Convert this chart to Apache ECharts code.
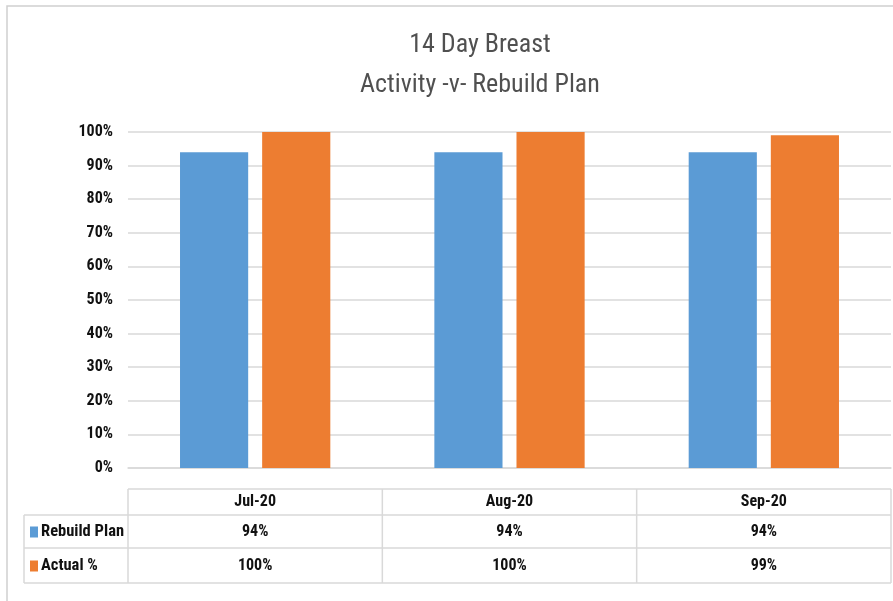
<!DOCTYPE html>
<html>
<head>
<meta charset="utf-8">
<script src="https://cdn.jsdelivr.net/npm/echarts@6/dist/echarts.min.js"></script>
<style>
html,body{margin:0;padding:0;background:#fff;}
#c{width:893px;height:601px;}
</style>
</head>
<body>
<div id="c"></div>
<script>
const categories = ['Jul-20', 'Aug-20', 'Sep-20'];
const seriesNames = ['Rebuild Plan', 'Actual %'];
const rebuildPlan = [94, 94, 94];
const actualPct = [100, 100, 99];
const yTickValues = [0, 10, 20, 30, 40, 50, 60, 70, 80, 90, 100];

const FONT = "'Liberation Sans Narrow', 'Roboto Condensed', 'Liberation Sans', sans-serif";
const colors = ['#5B9BD5', '#ED7D31'];
const lineColor = '#d9d9d9';

const chart = echarts.init(document.getElementById('c'), null, {renderer: 'canvas'});

const option = {
  animation: false,
  backgroundColor: '#fff',
  title: {
    text: '14 Day Breast\nActivity -v- Rebuild Plan',
    left: 475,
    textAlign: 'center',
    top: 20,
    textStyle: {fontFamily: FONT, fontSize: 26, fontWeight: 'normal', color: '#505050', lineHeight: 40}
  },
  grid: {left: 128, right: 2, top: 132, bottom: 133, containLabel: false},
  xAxis: {
    type: 'category',
    data: categories,
    axisTick: {show: false},
    axisLabel: {show: false},
    axisLine: {lineStyle: {color: lineColor, width: 1.5}}
  },
  yAxis: {
    type: 'value',
    min: yTickValues[0],
    max: yTickValues[yTickValues.length - 1],
    interval: yTickValues[1] - yTickValues[0],
    axisLine: {show: false},
    axisTick: {show: false},
    splitLine: {lineStyle: {color: lineColor, width: 1.5}},
    axisLabel: {
      formatter: v => v + '%',
      fontFamily: FONT, fontSize: 16, fontWeight: 'bold', color: '#111', margin: 15
    }
  },
  series: [
    {name: seriesNames[0], type: 'bar', data: rebuildPlan, barWidth: '26.8%', barGap: '20.5%', itemStyle: {color: colors[0]}},
    {name: seriesNames[1], type: 'bar', data: actualPct, barWidth: '26.8%', barGap: '20.5%', itemStyle: {color: colors[1]}}
  ]
};
chart.setOption(option);

// Data table built from the axis scale
const xs = categories.map(c => chart.convertToPixel({xAxisIndex: 0}, c));
const bw = xs[1] - xs[0];
const colLeft = xs[0] - bw / 2;
const colRight = xs[xs.length - 1] + bw / 2;
const baseY = chart.convertToPixel({yAxisIndex: 0}, 0);
const tableTop = baseY + 21;
const rowEdges = [tableTop, tableTop + 26, tableTop + 59, tableTop + 94];
const labelLeft = 24;

const g = [];
// outer chart border
g.push({type: 'rect', shape: {x: 7, y: 6, width: 1000, height: 700}, style: {fill: null, stroke: '#d0d0d0', lineWidth: 1.5}, z: 0});
// horizontal table lines
g.push({type: 'line', shape: {x1: colLeft, y1: rowEdges[0], x2: colRight, y2: rowEdges[0]}, style: {stroke: lineColor, lineWidth: 1.5}});
for (let i = 1; i < rowEdges.length; i++) {
  g.push({type: 'line', shape: {x1: labelLeft, y1: rowEdges[i], x2: colRight, y2: rowEdges[i]}, style: {stroke: lineColor, lineWidth: 1.5}});
}
// vertical lines
g.push({type: 'line', shape: {x1: labelLeft, y1: rowEdges[1], x2: labelLeft, y2: rowEdges[3]}, style: {stroke: lineColor, lineWidth: 1.5}});
for (let i = 0; i <= categories.length; i++) {
  const x = colLeft + i * bw;
  g.push({type: 'line', shape: {x1: x, y1: rowEdges[0], x2: x, y2: rowEdges[3]}, style: {stroke: lineColor, lineWidth: 1.5}});
}
const rows = [rebuildPlan, actualPct];
const txt = (x, y, s) => ({type: 'text', x: x, y: y, style: {text: s, fontFamily: FONT, fontSize: 16, fontWeight: 'bold', fill: '#111', align: 'center', verticalAlign: 'middle'}});
categories.forEach((c, i) => {
  g.push(txt(xs[i], (rowEdges[0] + rowEdges[1]) / 2, c));
  rows.forEach((r, j) => {
    g.push(txt(xs[i], (rowEdges[j + 1] + rowEdges[j + 2]) / 2, r[i] + '%'));
  });
});
seriesNames.forEach((n, j) => {
  const cy = (rowEdges[j + 1] + rowEdges[j + 2]) / 2;
  g.push({type: 'rect', shape: {x: 30, y: cy - 5, width: 8, height: 11}, style: {fill: colors[j]}});
  g.push({type: 'text', x: 41, y: cy, style: {text: n, fontFamily: FONT, fontSize: 16.5, fontWeight: 'bold', fill: '#111', align: 'left', verticalAlign: 'middle'}});
});
chart.setOption({graphic: {elements: g}});
</script>
</body>
</html>
